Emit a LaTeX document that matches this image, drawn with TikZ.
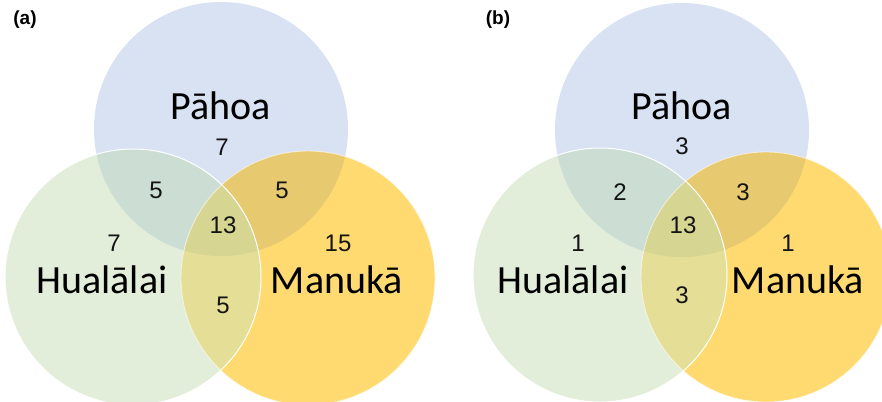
\documentclass[tikz,border=0pt]{standalone}
\usepackage{fontspec}
\setmainfont{Carlito}
\newfontfamily\numfont{Liberation Sans}
\definecolor{cblue}{RGB}{216,226,242}
\definecolor{cgreen}{RGB}{226,238,218}
\definecolor{cyellow}{RGB}{255,218,112}
\definecolor{cbg}{RGB}{204,222,212}
\definecolor{cby}{RGB}{231,201,112}
\definecolor{cgy}{RGB}{228,222,150}
\definecolor{call}{RGB}{215,213,146}
\tikzset{
  wline/.style={draw=white,line width=1pt},
  wlinesoft/.style={draw=white,draw opacity=0.6,line width=0.9pt},
  sitename/.style={font=\fontsize{40}{40}\selectfont,anchor=base,inner sep=0pt,text=black},
  count/.style={font=\numfont\fontsize{24}{24}\selectfont,inner sep=0pt,text=black!92},
  panellabel/.style={font=\numfont\bfseries\fontsize{19}{19}\selectfont,inner sep=0pt}
}
\begin{document}
\begin{tikzpicture}[x=1pt,y=-1pt]
\useasboundingbox (0,0) rectangle (882,401);
\clip (0,0) rectangle (882,401);
\fill[white] (0,0) rectangle (882,401);
% ---------- panel (a)
\coordinate (aT) at (221,129);
\coordinate (aL) at (133,277);
\coordinate (aR) at (308,278);
\fill[cblue] (aT) circle[radius=127pt];
\fill[cgreen] (aL) circle[radius=128pt];
\fill[cyellow] (aR) circle[radius=127pt];
\begin{scope}
  \clip (aT) circle[radius=127pt];
  \fill[cbg] (aL) circle[radius=128pt];
  \fill[cby] (aR) circle[radius=127pt];
\end{scope}
\begin{scope}
  \clip (aL) circle[radius=128pt];
  \fill[cgy] (aR) circle[radius=127pt];
  \clip (aT) circle[radius=127pt];
  \fill[call] (aR) circle[radius=127pt];
\end{scope}
\draw[wlinesoft] (aR) circle[radius=127pt];
\draw[wline] (aL) circle[radius=128pt];
% ---------- panel (b)
\coordinate (bT) at (682,130);
\coordinate (bL) at (600,275);
\coordinate (bR) at (766,277);
\fill[cblue] (bT) circle[radius=127pt];
\fill[cgreen] (bL) circle[radius=127pt];
\fill[cyellow] (bR) circle[radius=125pt];
\begin{scope}
  \clip (bT) circle[radius=127pt];
  \fill[cbg] (bL) circle[radius=127pt];
  \fill[cby] (bR) circle[radius=125pt];
\end{scope}
\begin{scope}
  \clip (bL) circle[radius=127pt];
  \fill[cgy] (bR) circle[radius=125pt];
  \clip (bT) circle[radius=127pt];
  \fill[call] (bR) circle[radius=125pt];
\end{scope}
\draw[wlinesoft] (bR) circle[radius=125pt];
\draw[wline] (bL) circle[radius=127pt];
% ---------- labels (a)
\node[panellabel] (la) at (25,20) {(a)};
\node[sitename] (aP) at (221,120) {Pāhoa};
\node[sitename] (aH) at (102,293) {Hualālai};
\node[sitename] (aM) at (337,293) {Manukā};
\node[count] (a1) at (222,147) {7};
\node[count] (a2) at (156,190) {5};
\node[count] (a3) at (282,190) {5};
\node[count] (a4) at (223,225) {13};
\node[count] (a5) at (114,243) {7};
\node[count] (a6) at (338,243) {15};
\node[count] (a7) at (223,305) {5};
% ---------- labels (b)
\node[panellabel] (lb) at (498,20) {(b)};
\node[sitename] (bP) at (682,119) {Pāhoa};
\node[sitename] (bH) at (563,293) {Hualālai};
\node[sitename] (bM) at (798,293) {Manukā};
\node[count] (b1) at (682,146) {3};
\node[count] (b2) at (620,192) {2};
\node[count] (b3) at (743,192) {3};
\node[count] (b4) at (683,225) {13};
\node[count] (b5) at (578,243) {1};
\node[count] (b6) at (788,243) {1};
\node[count] (b7) at (682,295) {3};
\end{tikzpicture}
\end{document}
